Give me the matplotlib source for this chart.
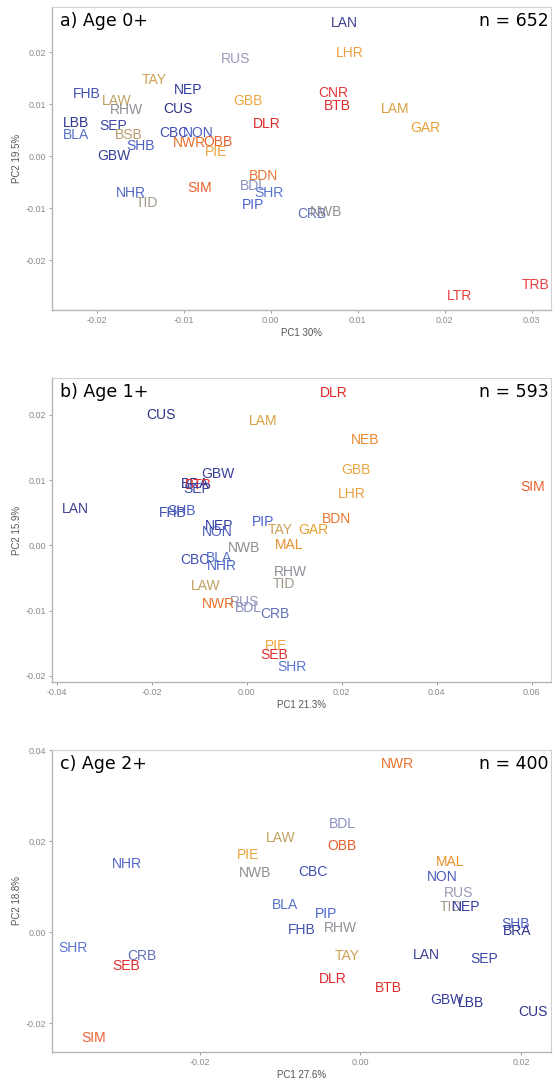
import matplotlib
matplotlib.use("Agg")
import matplotlib.pyplot as plt
from matplotlib.ticker import FormatStrFormatter

plt.rcParams["axes.unicode_minus"] = False
plt.rcParams["font.family"] = ["Liberation Sans", "DejaVu Sans"]

# colour for each sampling site (navy -> blue -> grey -> tan -> orange -> red)
site_colors = {
    "LAN": "#3D4190", "CUS": "#2E3287", "NEP": "#323C9E", "GBW": "#383E9A",
    "LBB": "#2F3590", "BRA": "#2F3590", "SEP": "#3A46A8", "CBC": "#3E4EB0",
    "NON": "#4A5CC0", "FHB": "#4050B0", "BLA": "#5570C8", "SHB": "#4A5FC0",
    "NHR": "#5068C8", "PIP": "#4A64D0", "SHR": "#5A74D2", "CRB": "#6070B8",
    "BDL": "#8A90C0", "RUS": "#9A9AB8", "RHW": "#909098", "NWB": "#8E8E8E",
    "TID": "#A0988A", "BSB": "#B89C70", "LAW": "#C0A060", "TAY": "#CDA055",
    "GBB": "#EBA540", "LHR": "#EBA040", "LAM": "#D9A040", "GAR": "#E8A030",
    "PIE": "#EBA540", "MAL": "#E8902A", "BDN": "#E87830", "NEB": "#E8882F",
    "NWR": "#E8702A", "OBB": "#E8602A", "SIM": "#E86030", "DLR": "#E02828",
    "CNR": "#E03838", "BTB": "#E02C2C", "LTR": "#E84040", "TRB": "#E84040",
    "SEB": "#E03030",
}

# a) Age 0+
sites_a = ["LAN", "LHR", "RUS", "TAY", "NEP", "CNR", "FHB", "LAW", "GBB", "BTB",
           "CUS", "RHW", "LAM", "LBB", "DLR", "SEP", "GAR", "BLA", "BSB", "CBC",
           "NON", "NWR", "OBB", "SHB", "PIE", "GBW", "BDN", "SIM", "BDL", "NHR",
           "SHR", "TID", "PIP", "CRB", "NWB", "LTR", "TRB"]
pc1_a = [0.0084, 0.0091, -0.0041, -0.0134, -0.0095, 0.0072, -0.0212, -0.0177, -0.0026, 0.0076,
         -0.0107, -0.0166, 0.0143, -0.0224, -0.0005, -0.0181, 0.0177, -0.0224, -0.0163, -0.0112,
         -0.0084, -0.0094, -0.0061, -0.0150, -0.0063, -0.0181, -0.0008, -0.0082, -0.0020, -0.0161,
         -0.0002, -0.0143, -0.0021, 0.0047, 0.0063, 0.0217, 0.0304]
pc2_a = [0.0256, 0.0198, 0.0187, 0.0146, 0.0128, 0.0122, 0.0119, 0.0107, 0.0107, 0.0096,
         0.0091, 0.0089, 0.0090, 0.0063, 0.0062, 0.0059, 0.0054, 0.0041, 0.0040, 0.0044,
         0.0044, 0.0025, 0.0028, 0.0019, 0.0008, 0.0001, -0.0038, -0.0062, -0.0057, -0.0070,
         -0.0070, -0.0091, -0.0094, -0.0112, -0.0108, -0.0269, -0.0247]

# b) Age 1+
sites_b = ["DLR", "CUS", "LAM", "NEB", "GBB", "GBW", "BRA", "BTB", "SEP", "SIM",
           "LHR", "LAN", "FHB", "SHB", "BDN", "PIP", "NEP", "TAY", "GAR", "NON",
           "MAL", "NWB", "BLA", "CBC", "NHR", "RHW", "TID", "LAW", "RUS", "NWR",
           "BDL", "CRB", "PIE", "SEB", "SHR"]
pc1_b = [0.0184, -0.0180, 0.0035, 0.0249, 0.0230, -0.0060, -0.0109, -0.0102, -0.0104, 0.0603,
         0.0221, -0.0361, -0.0155, -0.0137, 0.0189, 0.0035, -0.0057, 0.0070, 0.0141, -0.0063,
         0.0089, -0.0006, -0.0059, -0.0109, -0.0053, 0.0093, 0.0078, -0.0087, -0.0004, -0.0060,
         0.0003, 0.0059, 0.0061, 0.0059, 0.0096]
pc2_b = [0.0233, 0.0200, 0.0190, 0.0162, 0.0116, 0.0109, 0.0094, 0.0093, 0.0087, 0.0090,
         0.0079, 0.0056, 0.0050, 0.0053, 0.0040, 0.0035, 0.0029, 0.0023, 0.0024, 0.0020,
         0.0001, -0.0004, -0.0019, -0.0023, -0.0032, -0.0041, -0.0059, -0.0062, -0.0087, -0.0090,
         -0.0096, -0.0105, -0.0154, -0.0168, -0.0187]

# c) Age 2+
sites_c = ["NWR", "BDL", "LAW", "OBB", "PIE", "MAL", "NHR", "CBC", "NWB", "NON",
           "RUS", "BLA", "TID", "NEP", "PIP", "SHB", "RHW", "FHB", "BRA", "SHR",
           "LAN", "CRB", "TAY", "SEP", "SEB", "DLR", "BTB", "GBW", "LBB", "CUS", "SIM"]
pc1_c = [0.0046, -0.0023, -0.0099, -0.0023, -0.0140, 0.0112, -0.0290, -0.0059, -0.0131, 0.0102,
         0.0122, -0.0094, 0.0112, 0.0131, -0.0043, 0.0193, -0.0025, -0.0073, 0.0195, -0.0357,
         0.0082, -0.0272, -0.0016, 0.0154, -0.0291, -0.0034, 0.0035, 0.0108, 0.0137, 0.0215, -0.0332]
pc2_c = [0.0371, 0.0239, 0.0207, 0.0191, 0.0171, 0.0154, 0.0151, 0.0134, 0.0131, 0.0122,
         0.0087, 0.0060, 0.0057, 0.0057, 0.0040, 0.0018, 0.0009, 0.0006, 0.0004, -0.0035,
         -0.0049, -0.0051, -0.0051, -0.0058, -0.0073, -0.0102, -0.0121, -0.0149, -0.0156, -0.0175, -0.0231]

panels = [
    ("a) Age 0+", "n = 652", "PC1 30%", "PC2 19.5%", sites_a, pc1_a, pc2_a,
     (-0.0251, 0.0322), (-0.0296, 0.0287),
     [-0.02, -0.01, 0.0, 0.01, 0.02, 0.03], [-0.02, -0.01, 0.0, 0.01, 0.02]),
    ("b) Age 1+", "n = 593", "PC1 21.3%", "PC2 15.9%", sites_b, pc1_b, pc2_b,
     (-0.0409, 0.0641), (-0.0209, 0.0256),
     [-0.04, -0.02, 0.0, 0.02, 0.04, 0.06], [-0.02, -0.01, 0.0, 0.01, 0.02]),
    ("c) Age 2+", "n = 400", "PC1 27.6%", "PC2 18.8%", sites_c, pc1_c, pc2_c,
     (-0.0383, 0.0237), (-0.0262, 0.0401),
     [-0.02, 0.0, 0.02], [-0.02, 0.0, 0.02, 0.04]),
]

fig = plt.figure(figsize=(5.53, 10.82), dpi=100)
left, width = 0.0949, 0.9015
boxes = [(0.7135, 0.2800), (0.3700, 0.2804), (0.0280, 0.2788)]

for (title, n_txt, xlab, ylab, sites, pc1, pc2, xlim, ylim, xt, yt), (bot, h) in zip(panels, boxes):
    ax = fig.add_axes([left, bot, width, h])
    for s, x, y in zip(sites, pc1, pc2):
        ax.text(x, y, s, color=site_colors[s], ha="center", va="center", fontsize=10)
    ax.set_xlim(*xlim)
    ax.set_ylim(*ylim)
    ax.set_xticks(xt)
    ax.set_yticks(yt)
    ax.xaxis.set_major_formatter(FormatStrFormatter("%.2f"))
    ax.yaxis.set_major_formatter(FormatStrFormatter("%.2f"))
    ax.tick_params(labelsize=6.5, colors="#8A8A8A", length=2.5, width=0.6, pad=2)
    for side in ["top", "right"]:
        ax.spines[side].set_color("#D0D0D0")
        ax.spines[side].set_linewidth(0.8)
    for side in ["left", "bottom"]:
        ax.spines[side].set_color("#B5B5B5")
        ax.spines[side].set_linewidth(1.0)
    ax.set_xlabel(xlab, fontsize=7, color="#555555", labelpad=2)
    ax.set_ylabel(ylab, fontsize=7, color="#555555", labelpad=3)
    ax.text(0.015, 0.985, title, transform=ax.transAxes, ha="left", va="top",
            fontsize=12.5, family="DejaVu Sans", color="black")
    ax.text(0.995, 0.985, n_txt, transform=ax.transAxes, ha="right", va="top",
            fontsize=12.5, family="DejaVu Sans", color="black")

fig.savefig("out.png", dpi=100)
